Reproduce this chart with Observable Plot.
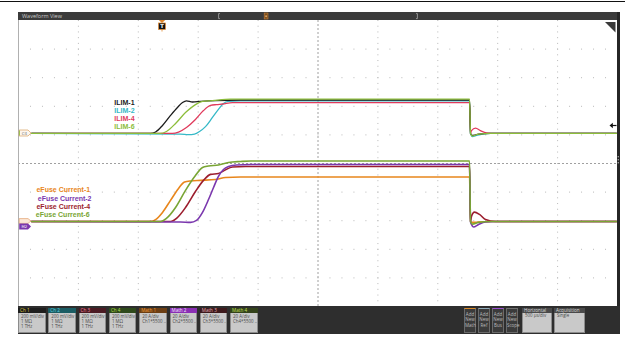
<!DOCTYPE html>
<html><head><meta charset="utf-8">
<script src="https://cdn.jsdelivr.net/npm/d3@7"></script>
<script src="https://cdn.jsdelivr.net/npm/@observablehq/plot@0.6"></script>
<style>
body{margin:0;background:#fff;font-family:"Open Sans","DejaVu Sans",sans-serif;}
#wrap{position:relative;width:625px;height:341px;overflow:hidden;background:#fff;}
.abs{position:absolute;}
.box{position:absolute;box-sizing:border-box;}
.hdr{height:5px;font-size:4.6px;line-height:5px;padding-left:2px;white-space:nowrap;overflow:hidden;}
.body{background:#c9c9c9;height:20px;font-size:4.4px;line-height:5.4px;padding:0.5px 0 0 2px;color:#4a4a4a;white-space:nowrap;overflow:hidden;border:0.5px solid #8c8c8c;border-top:none;box-sizing:border-box;}
.add{background:#3b3b3b;border:0.6px solid #6a6a6a;color:#bdbdbd;font-size:4.5px;line-height:5.4px;text-align:center;padding-top:3px;}
</style></head>
<body><div id="wrap"></div>
<script>
// ---------- data (time in ms from left edge of record, level in screen divisions) ----------
const seriesNames = ["ILIM-1","ILIM-2","ILIM-4","ILIM-6","eFuse Current-1","eFuse Current-2","eFuse Current-4","eFuse Current-6"];
const seriesColors = ["#1b1b1b","#36b9c7","#e03a5c","#8cbd3a","#e8861c","#7b38ae","#9c1e2e","#79a534"];

const ilim1 = [[0.109,1.05],[1.102,1.05],[1.144,1.10],[1.202,1.33],[1.269,1.68],[1.327,1.96],[1.369,2.13],[1.402,2.19],[1.452,2.15],[1.519,2.17],[1.644,2.20],[1.853,2.22],[3.765,2.22],[3.773,1.05],[3.790,0.98],[3.840,1.03],[3.940,1.05],[4.992,1.05]];
const ilim2 = [[0.109,1.05],[1.352,1.03],[1.419,1.01],[1.469,1.03],[1.511,1.12],[1.561,1.29],[1.619,1.61],[1.669,1.89],[1.711,2.10],[1.753,2.17],[1.853,2.19],[3.765,2.19],[3.773,1.05],[3.790,0.94],[3.823,0.98],[3.873,1.03],[3.940,1.05],[4.992,1.05]];
const ilim4 = [[0.109,1.05],[1.285,1.05],[1.336,1.10],[1.402,1.26],[1.477,1.54],[1.544,1.85],[1.603,2.03],[1.653,2.06],[1.703,2.08],[1.786,2.13],[3.765,2.13],[3.773,1.05],[3.781,1.15],[3.815,1.24],[3.856,1.15],[3.907,1.07],[3.982,1.05],[4.992,1.05]];
const ilim6 = [[0.109,1.05],[1.185,1.05],[1.235,1.12],[1.311,1.40],[1.394,1.78],[1.477,2.06],[1.536,2.17],[1.619,2.20],[1.770,2.25],[3.765,2.25],[3.773,1.05],[3.790,0.96],[3.840,1.03],[3.940,1.05],[4.992,1.05]];

const efuse1 = [[0.109,-2.03],[1.102,-2.03],[1.144,-1.96],[1.202,-1.71],[1.269,-1.29],[1.336,-0.87],[1.386,-0.65],[1.436,-0.61],[1.519,-0.59],[1.644,-0.56],[1.728,-0.49],[1.853,-0.47],[3.765,-0.47],[3.773,-2.03],[3.790,-2.06],[3.840,-2.045],[3.940,-2.03],[4.992,-2.03]];
const efuse2 = [[0.109,-2.03],[1.352,-2.045],[1.436,-2.06],[1.486,-1.99],[1.536,-1.71],[1.586,-1.26],[1.628,-0.84],[1.669,-0.45],[1.711,-0.21],[1.753,-0.105],[1.820,-0.05],[1.937,-0.035],[3.765,-0.035],[3.773,-2.03],[3.781,-2.13],[3.798,-2.22],[3.840,-2.13],[3.898,-2.045],[3.982,-2.03],[4.992,-2.03]];
const efuse4 = [[0.109,-2.03],[1.269,-2.03],[1.319,-1.92],[1.394,-1.54],[1.477,-0.98],[1.544,-0.59],[1.603,-0.38],[1.669,-0.35],[1.720,-0.24],[1.786,-0.12],[1.895,-0.105],[3.765,-0.105],[3.773,-2.03],[3.781,-1.85],[3.806,-1.70],[3.848,-1.78],[3.898,-1.96],[3.982,-2.03],[4.992,-2.03]];
const efuse6 = [[0.109,-2.03],[1.185,-2.03],[1.235,-1.92],[1.311,-1.54],[1.394,-0.94],[1.477,-0.42],[1.536,-0.14],[1.586,-0.09],[1.669,-0.05],[1.753,0.035],[1.853,0.07],[1.937,0.087],[3.765,0.087],[3.773,-2.03],[3.790,-2.12],[3.840,-2.06],[3.940,-2.03],[4.992,-2.03]];

const seriesPoints = [ilim1, ilim2, ilim4, ilim6, efuse1, efuse2, efuse4, efuse6];

// annotation placement (ms, div)
const labelPos = [[0.80,2.108],[0.80,1.829],[0.80,1.549],[0.80,1.269],[0.150,-0.92],[0.161,-1.248],[0.150,-1.528],[0.145,-1.808]];

// channel info panel
const chTitles = ["Ch 1","Ch 2","Ch 3","Ch 4","Math 1","Math 2","Math 3","Math 4"];
const chLines = [["200 mV/div","1 MΩ","1 THz"],["200 mV/div","1 MΩ","1 THz"],["200 mV/div","1 MΩ","1 THz"],["200 mV/div","1 MΩ","1 THz"],
  ["20 A/div","Ch1*5500 .."],["20 A/div","Ch2*5500 .."],["20 A/div","Ch3*5500 .."],["20 A/div","Ch4*5500 .."]];
const addTitles = [["Add","New","Math"],["Add","New","Ref"],["Add","New","Bus"],["Add","New","Scope"]];
const infoTitles = [["Horizontal","500 µs/div"],["Acquisition","Single"]];

// ---------- build ----------
const rows = seriesNames.flatMap((name,i) => seriesPoints[i].map(([t,v]) => ({name, t, v, grp: i<4?"ilim":"efuse"})));
const labels = seriesNames.map((name,i) => ({name, t: labelPos[i][0], v: labelPos[i][1], grp: i<4?"ilim":"efuse"}));
const drawOrder = ["ILIM-2","ILIM-4","ILIM-1","ILIM-6","eFuse Current-1","eFuse Current-4","eFuse Current-2","eFuse Current-6"];
const xGrid = d3.range(0, 5.0001, 0.5).filter(d => d !== 2.5 && d !== 0 && d !== 5);
const yGrid = d3.range(-4, 4.0001, 1).filter(d => d !== 0);

const plot = Plot.plot({
  width: 625, height: 341,
  marginLeft: 18, marginRight: 8, marginTop: 20, marginBottom: 35,
  x: {domain: [0, 5], axis: null},
  y: {domain: [-5, 5], axis: null},
  color: {domain: seriesNames, range: seriesColors},
  style: {position: "absolute", left: "0px", top: "0px", background: "transparent", overflow: "visible"},
  marks: [
    Plot.ruleX(xGrid, {stroke: "#b8b8b8", strokeDasharray: "1,4.72", strokeWidth: 1}),
    Plot.ruleY(yGrid, {stroke: "#b8b8b8", strokeDasharray: "1,10.98", strokeWidth: 1}),
    Plot.ruleX([2.5], {stroke: "#a0a0a0", strokeDasharray: "2,2", strokeWidth: 1}),
    Plot.ruleY([0], {stroke: "#a0a0a0", strokeDasharray: "2,2", strokeWidth: 1}),
    Plot.ruleX([0], {stroke: "#b0b0b0", strokeWidth: 1}),
    ...drawOrder.map(n => Plot.line(rows.filter(r => r.name === n), {
      x: "t", y: "v", stroke: "name", curve: "monotone-x",
      strokeWidth: n.startsWith("ILIM") ? 1.3 : 1.6, strokeLinejoin: "round"
    })),
    Plot.text(labels.filter(d => d.grp === "ilim"), {x: "t", y: "v", text: "name", fill: "name", textAnchor: "start",
      fontSize: 7, fontWeight: 700, fontFamily: "Liberation Sans", letterSpacing: 0.3}),
    Plot.text(labels.filter(d => d.grp === "efuse"), {x: "t", y: "v", text: "name", fill: "name", textAnchor: "start",
      fontSize: 7, fontWeight: 700, fontFamily: "Liberation Sans", letterSpacing: 0.2})
  ]
});
const wrap = document.getElementById("wrap");
wrap.appendChild(plot);

// ---------- oscilloscope chrome ----------
function div(css, html) { const d = document.createElement("div"); d.className = "abs"; d.style.cssText = css; if (html) d.innerHTML = html; wrap.appendChild(d); return d; }
div("left:0;top:1px;width:625px;height:1.2px;background:#111;");
div("left:18px;top:12px;width:602px;height:8px;background:#3b3b3b;color:#c8c8c8;font-size:5.5px;line-height:8px;padding-left:4px;box-sizing:border-box;", "Waveform View");
div("left:617px;top:12px;width:3px;height:322px;background:#262626;");
const panel = div("left:18px;top:306px;width:602px;height:28px;background:#2e2e2e;");

const hdrStyles = [["#1e1e1e","#e2d23c"],["#1b5d64","#5fd6e0"],["#4b1b23","#f08aa0"],["#2f4a1b","#b8df4a"],["#6d3f14","#f0a040"],["#8a2fb4","#f2e6ff"],["#3d1a1d","#e8b0b8"],["#34431b","#c6e05a"]];
chTitles.forEach((t, i) => {
  const b = document.createElement("div");
  b.className = "box";
  b.style.cssText = `left:${i*30.3}px;top:2px;width:27.5px;`;
  b.innerHTML = `<div class="hdr" style="background:${hdrStyles[i][0]};color:${hdrStyles[i][1]}">${t}</div><div class="body">${chLines[i].join("<br>")}</div>`;
  panel.appendChild(b);
});
const stripe = ["#d98a2a","#8fa9b8","#9a4fd0","#6f6f6f"];
addTitles.forEach((t, i) => {
  const b = document.createElement("div");
  b.className = "box add";
  b.style.cssText = `left:${446 + i*14}px;top:2px;width:12px;height:25px;border-top:1.2px solid ${stripe[i]};`;
  b.innerHTML = t.join("<br>");
  panel.appendChild(b);
});
infoTitles.forEach((t, i) => {
  const b = document.createElement("div");
  b.className = "box";
  b.style.cssText = `left:${504 + i*32}px;top:2px;width:${30 + i}px;`;
  b.innerHTML = `<div class="hdr" style="background:#4a4a4a;color:#dcdcdc;height:4.6px;line-height:4.6px">${t[0]}</div><div class="body" style="height:20px">${t[1]}</div>`;
  panel.appendChild(b);
});

// markers
const ns = "http://www.w3.org/2000/svg";
const ov = document.createElementNS(ns, "svg");
ov.setAttribute("width", 625); ov.setAttribute("height", 341);
ov.setAttribute("class", "abs"); ov.style.left = "0px"; ov.style.top = "0px";
ov.innerHTML = `
<path d="M220,13.6H218.6V18.6H220" fill="none" stroke="#a8a8a8" stroke-width="0.8"/>
<path d="M416,13.6H417.4V18.6H416" fill="none" stroke="#a8a8a8" stroke-width="0.8"/>
<rect x="264.2" y="13" width="3.8" height="6" fill="#7a4e1c" stroke="#c9803a" stroke-width="0.6"/>
<circle cx="266.1" cy="16.2" r="1" fill="#d9a060"/>
<polygon points="158.8,20 165.2,20 162,23" fill="#e0862a"/>
<rect x="158.6" y="23" width="6.8" height="6.4" fill="#141414" stroke="#e0862a" stroke-width="0.7"/>
<text x="162" y="28.3" fill="#fff" font-size="5.2" font-weight="700" text-anchor="middle" font-family="DejaVu Sans">T</text>
<line x1="162" y1="29.6" x2="162" y2="31.5" stroke="#e0862a" stroke-width="0.8"/>
<polygon points="605,22 615.5,22 615.5,32.5" fill="#3a3a3a"/>
<polygon points="19.2,130 28,130 31,133 28,136 19.2,136" fill="#fdf6ee" stroke="#d9a060" stroke-width="0.7"/>
<line x1="19.5" y1="130.5" x2="19.5" y2="135.5" stroke="#8cbd3a" stroke-width="0.8"/>
<text x="24.5" y="134.7" fill="#777" font-size="4" text-anchor="middle" font-family="DejaVu Sans">C4</text>
<polygon points="19.2,218.6 28,218.6 31,221 28,223.4 19.2,223.4" fill="#fbe7d6" stroke="#e3a070" stroke-width="0.7"/>
<polygon points="19.2,223.6 28,223.6 31,226.6 28,229.6 19.2,229.6" fill="#7b38ae"/>
<text x="24.3" y="228.1" fill="#fff" font-size="3.8" text-anchor="middle" font-family="DejaVu Sans">M2</text>
<polygon points="609.5,125.5 612.8,122.8 612.8,128.2" fill="#111"/>
<line x1="612" y1="125.5" x2="616.5" y2="125.5" stroke="#111" stroke-width="1.2"/>
<rect x="617.6" y="156" width="1.4" height="1.4" fill="#999"/>
<rect x="617.6" y="159" width="1.4" height="1.4" fill="#999"/>
<rect x="617.6" y="162" width="1.4" height="1.4" fill="#999"/>
`;
wrap.appendChild(ov);
</script>
</body></html>
